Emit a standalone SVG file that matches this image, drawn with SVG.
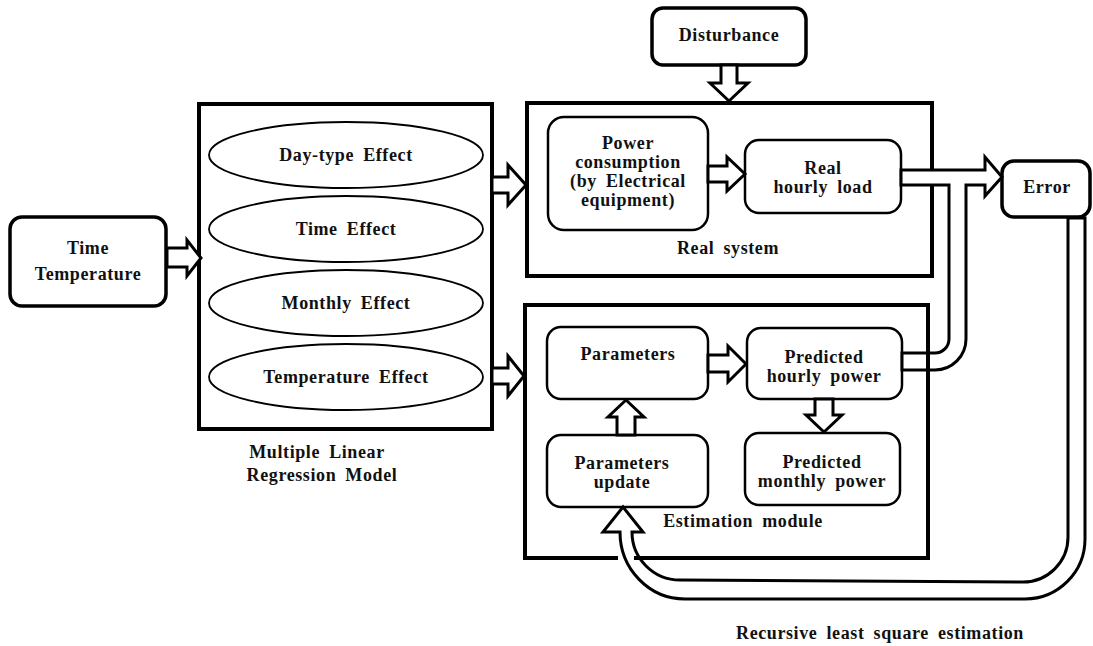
<svg xmlns="http://www.w3.org/2000/svg" width="1093" height="646" viewBox="0 0 1093 646">
<style>
text{font-family:'Liberation Serif','DejaVu Serif','Times New Roman',serif;font-weight:bold;font-size:18px;letter-spacing:0.6px;fill:#111;text-anchor:middle;word-spacing:4px}
.frame{fill:none;stroke:#000;stroke-width:4}
.box{fill:#fff;stroke:#000;stroke-width:2.5}
.tbox{fill:#fff;stroke:#000;stroke-width:3.5}
.ell{fill:#fff;stroke:#000;stroke-width:1.8}
.arr{fill:#fff;stroke:#000;stroke-width:3;stroke-linejoin:miter}
</style>
<rect width="1093" height="646" fill="#fff"/>
<g id="time-temperature">
<rect class="tbox" x="10" y="217" width="156" height="89" rx="12"/>
<text x="88" y="254">Time</text>
<text x="88" y="280">Temperature</text>
</g>
<g id="mlr-model">
<rect class="frame" x="199" y="104" width="293" height="325"/>
<ellipse class="ell" cx="346" cy="155" rx="137" ry="33"/>
<text x="346" y="161">Day-type Effect</text>
<ellipse class="ell" cx="346" cy="229" rx="137" ry="33"/>
<text x="346" y="235">Time Effect</text>
<ellipse class="ell" cx="346" cy="303" rx="137" ry="33"/>
<text x="346" y="309">Monthly Effect</text>
<ellipse class="ell" cx="346" cy="377" rx="137" ry="33"/>
<text x="346" y="383">Temperature Effect</text>
<text x="317" y="458">Multiple Linear</text>
<text x="322" y="481">Regression Model</text>
</g>
<g id="disturbance">
<rect class="tbox" x="652" y="8" width="154" height="57" rx="11"/>
<text x="729" y="41">Disturbance</text>
</g>
<g id="real-system">
<rect class="frame" x="527" y="103" width="405" height="173"/>
<text x="728" y="254">Real system</text>
</g>
<g id="power-consumption">
<rect class="box" x="548" y="117" width="160" height="113" rx="16"/>
<text x="628" y="149">Power</text>
<text x="628" y="168">consumption</text>
<text x="628" y="187">(by Electrical</text>
<text x="628" y="206">equipment)</text>
</g>
<g id="real-hourly-load">
<rect class="box" x="745" y="140" width="156" height="73" rx="14"/>
<text x="823" y="174">Real</text>
<text x="823" y="193">hourly load</text>
</g>
<g id="error">
<rect class="tbox" x="1002" y="161" width="88" height="56" rx="12"/>
<text x="1047" y="193">Error</text>
</g>
<g id="parameters">
<rect class="box" x="547" y="327" width="161" height="72" rx="14"/>
<text x="628" y="360">Parameters</text>
</g>
<g id="predicted-hourly-power">
<rect class="box" x="747" y="328" width="155" height="71" rx="14"/>
<text x="824" y="363">Predicted</text>
<text x="824" y="382">hourly power</text>
</g>
<g id="parameters-update">
<rect class="box" x="547" y="435" width="161" height="72" rx="14"/>
<text x="622" y="469">Parameters</text>
<text x="622" y="488">update</text>
</g>
<g id="predicted-monthly-power">
<rect class="box" x="745" y="433" width="155" height="72" rx="14"/>
<text x="822" y="468">Predicted</text>
<text x="822" y="487">monthly power</text>
</g>
<g id="connectors">
<polygon class="arr" points="167,248 187,248 187,240 201,258 187,276 187,267 167,267"/>
<polygon class="arr" points="492,177 508,177 508,165 526,185 508,205 508,193 492,193"/>
<polygon class="arr" points="492,368 508,368 508,356 524,376 508,396 508,384 492,384"/>
<polygon class="arr" points="721,65 737,65 737,83 748,83 729,101 710,83 721,83"/>
<polygon class="arr" points="708,166 727,166 727,157 745,174 727,191 727,182 708,182"/>
<polygon class="arr" points="708,355 728,355 728,346 746,364 728,382 728,372 708,372"/>
<polygon class="arr" points="617,435 617,417 608,417 626,400 644,417 635,417 635,435"/>
<polygon class="arr" points="815,399 833,399 833,415 842,415 824,432 806,415 815,415"/>
<path class="arr" d="M901,170 L985,170 L985,157 L1002,177 L985,196 L985,185 L966,185 L966,339 A31,31 0 0 1 935,370 L902,370 L902,353 L935,353 A14,14 0 0 0 949,339 L949,185 L901,185 Z"/>
<path class="arr" d="M623,507 L643,532 L632,532 A48,48 0 0 0 680,580 L1023,582 A45,45 0 0 0 1068,537 L1068,218 L1085,218 L1085,539 A60,60 0 0 1 1025,599 L685,599 A65,67 0 0 1 620,532 L603,532 Z"/>
<text x="880" y="639">Recursive least square estimation</text>
</g>
<g id="estimation-module">
<path class="frame" d="M618,558 H525 V305 H928 V558 H634"/>
<text x="743" y="527">Estimation module</text>
</g>
</svg>
